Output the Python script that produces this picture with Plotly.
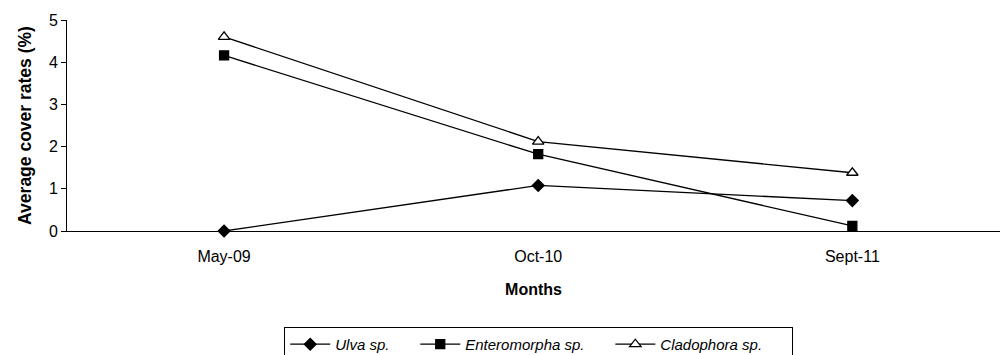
import plotly.graph_objects as go

months = ["May-09", "Oct-10", "Sept-11"]
ulva = [0.0, 1.08, 0.72]
enteromorpha = [4.16, 1.82, 0.12]
cladophora = [4.6, 2.12, 1.38]

NB = "&nbsp;"
series = [
    ("<i>Ulva sp.</i>" + NB * 5, ulva, "diamond", "black", 9),
    ("<i>Enteromorpha sp.</i>" + NB * 5, enteromorpha, "square", "black", 9),
    ("<i>Cladophora sp.</i>" + NB * 6, cladophora, "triangle-up", "white", 10),
]

fig = go.Figure()
for name, vals, sym, fill, size in series:
    fig.add_trace(go.Scatter(
        x=list(range(len(months))), y=vals, name=name, mode="lines+markers",
        line=dict(color="black", width=1.3),
        marker=dict(symbol=sym, size=size, color=fill, line=dict(color="black", width=1.3)),
        cliponaxis=False,
    ))

fig.update_layout(
    width=1000, height=355,
    margin=dict(l=67, r=0, t=20, b=124),
    paper_bgcolor="white", plot_bgcolor="white",
    font=dict(family="Liberation Sans, Arial", size=12, color="black"),
    showlegend=True,
    legend=dict(orientation="h", x=0.5056, xanchor="center",
                yref="container", y=0.079, yanchor="top",
                bordercolor="black", borderwidth=1, font=dict(size=15),
                itemwidth=40, tracegroupgap=0),
    xaxis=dict(
        tickmode="array", tickvals=list(range(len(months))), ticktext=months,
        range=[-0.5, 2.47], showline=True, linecolor="black", linewidth=1,
        ticks="", showgrid=False, zeroline=False, tickfont=dict(size=16),
        ticklabelstandoff=11, automargin=False,
        title=dict(text="<b>Months</b>", font=dict(size=16), standoff=19),
    ),
    yaxis=dict(
        range=[0, 5], dtick=1, showline=True, linecolor="black", linewidth=1,
        ticks="outside", ticklen=5, tickcolor="black", showgrid=False, zeroline=False,
        tickfont=dict(size=16), automargin=False,
        title=dict(text="<b>Average cover rates (%)</b>", font=dict(size=17.5), standoff=12),
    ),
)

fig.write_html("out.html", config={"displayModeBar": False},
               post_script="document.body.style.margin='0';")
